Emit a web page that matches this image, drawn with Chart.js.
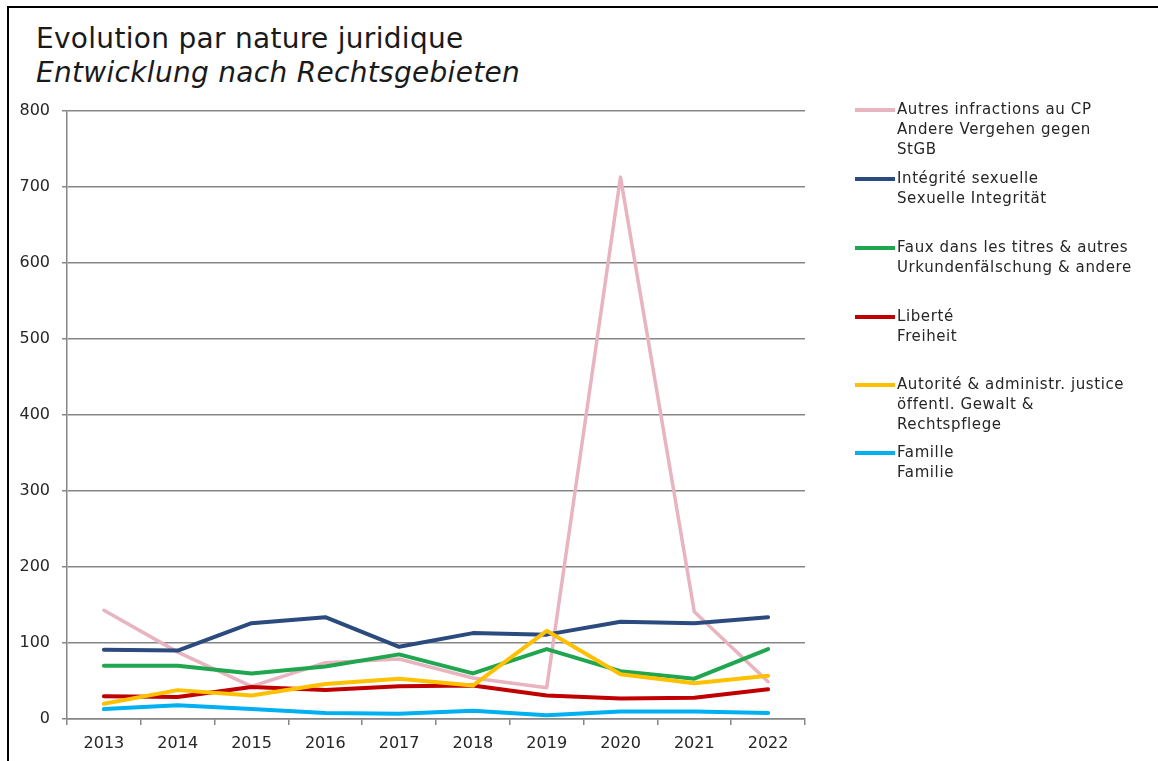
<!DOCTYPE html>
<html>
<head>
<meta charset="utf-8">
<script src="https://cdn.jsdelivr.net/npm/chart.js@4"></script>
<style>
  html, body { margin: 0; padding: 0; background: #fff; }
  body { width: 1158px; height: 761px; position: relative; overflow: hidden; font-family: "DejaVu Sans", sans-serif; }
  #frame { position: absolute; left: 7px; top: 6px; width: 1200px; height: 800px; border-left: 2px solid #000; border-top: 2px solid #000; }
  #title { position: absolute; left: 36px; top: 22px; color: #1a1a1a; font-size: 28px; line-height: 34px; font-weight: normal; letter-spacing: 0.3px; }
  #title .sub { font-style: italic; }
  #wrap { position: absolute; left: 0; top: 0; width: 1158px; height: 761px; }
  #legend { position: absolute; left: 855px; top: 0; color: #262626; font-size: 15px; line-height: 20px; letter-spacing: 0.6px; }
  .item { position: absolute; left: 0; white-space: nowrap; }
  .item .sw { position: absolute; left: 0; top: 9px; width: 40px; height: 4px; }
  .item .tx { position: absolute; left: 42px; top: 0; }
</style>
</head>
<body>
<div id="frame"></div>
<div id="title"><div>Evolution par nature juridique</div><div class="sub">Entwicklung nach Rechtsgebieten</div></div>
<div id="wrap"><canvas id="c" width="1158" height="761"></canvas></div>
<div id="legend"></div>
<script>
const years = ["2013","2014","2015","2016","2017","2018","2019","2020","2021","2022"];
const yTicks = [0,100,200,300,400,500,600,700,800];

const autres    = [143, 88, 43, 74, 79, 54, 41, 713, 141, 49];
const integrite = [91, 90, 126, 134, 95, 113, 111, 128, 126, 134];
const faux      = [70, 70, 60, 69, 85, 60, 92, 63, 53, 92];
const liberte   = [30, 29, 42, 38, 43, 44, 31, 27, 28, 39];
const autorite  = [20, 38, 31, 46, 53, 44, 116, 59, 47, 57];
const famille   = [13, 18, 13, 8, 7, 11, 5, 10, 10, 8];

const seriesLabels = [
  ["Autres infractions au CP", "Andere Vergehen gegen", "StGB"],
  ["Intégrité sexuelle", "Sexuelle Integrität"],
  ["Faux dans les titres & autres", "Urkundenfälschung & andere"],
  ["Liberté", "Freiheit"],
  ["Autorité & administr. justice", "öffentl. Gewalt &", "Rechtspflege"],
  ["Famille", "Familie"]
];
const seriesData = [autres, integrite, faux, liberte, autorite, famille];
const colors = ["#E8B4C0", "#2B4A7E", "#1FA64E", "#C00000", "#FFC000", "#00B0F0"];
const widths = [3.5, 4, 4, 4, 4, 4];
const legendTops = [99, 168, 237, 306, 374, 442];

const datasets = seriesData.map((d, i) => ({
  label: seriesLabels[i].join(" "),
  data: d,
  borderColor: colors[i],
  backgroundColor: colors[i],
  borderWidth: widths[i],
  pointRadius: 0,
  pointHoverRadius: 0,
  tension: 0,
  fill: false,
  order: seriesData.length - 1 - i,
  borderCapStyle: 'round',
  borderJoinStyle: 'round'
}));

const legend = document.getElementById('legend');
seriesLabels.forEach((lines, i) => {
  const it = document.createElement('div');
  it.className = 'item';
  it.style.top = legendTops[i] + 'px';
  const sw = document.createElement('div');
  sw.className = 'sw';
  sw.style.background = colors[i];
  const tx = document.createElement('div');
  tx.className = 'tx';
  tx.innerHTML = lines.join('<br>');
  it.appendChild(sw); it.appendChild(tx);
  legend.appendChild(it);
});

new Chart(document.getElementById('c'), {
  type: 'line',
  data: { labels: years, datasets },
  options: {
    responsive: false,
    animation: false,
    layout: { padding: { left: 17, top: 111, right: 353, bottom: 0 } },
    plugins: { legend: { display: false }, title: { display: false }, tooltip: { enabled: false } },
    scales: {
      x: {
        type: 'category',
        offset: true,
        grid: { display: true, drawOnChartArea: false, drawTicks: true, tickLength: 6, offset: true, color: '#868686', lineWidth: 1.5 },
        border: { display: true, color: '#868686', width: 1.5 },
        ticks: { color: '#262626', font: { family: 'DejaVu Sans', size: 16 }, padding: 9, maxRotation: 0 },
        afterFit: (s) => { s.height = 42; }
      },
      y: {
        min: 0, max: 800,
        afterBuildTicks: (s) => { s.ticks = yTicks.map(v => ({ value: v })); },
        grid: { color: '#868686', lineWidth: 1.5, drawTicks: true, tickLength: 5 },
        border: { display: true, color: '#868686', width: 1.5 },
        ticks: { color: '#262626', font: { family: 'DejaVu Sans', size: 16 }, padding: 12 },
        afterFit: (s) => { s.width = 50; }
      }
    }
  }
});
</script>
</body>
</html>
